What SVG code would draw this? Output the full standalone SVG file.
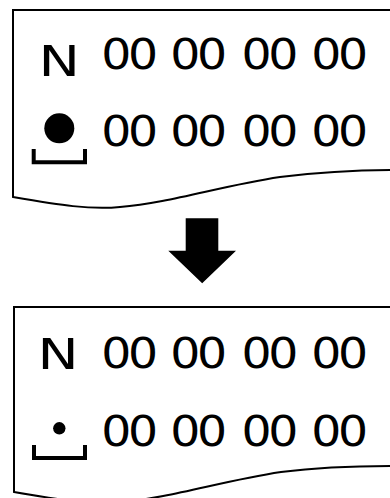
<svg xmlns="http://www.w3.org/2000/svg" width="390" height="498" viewBox="0 0 390 498">
<style>
.frame{fill:#fff;stroke:#000;stroke-width:2;stroke-linejoin:miter}
.num{font-family:"DejaVu Sans",sans-serif;font-size:43px;fill:#000}
.n{font-family:"DejaVu Sans",sans-serif;font-size:42px;fill:#000}
.br{fill:none;stroke:#000;stroke-width:4;stroke-linejoin:miter;stroke-linecap:butt}
</style>
<rect width="390" height="498" fill="#fff"/>
<g id="before">
<path class="frame" d="M395,10 H13 V197 C60,205 90,210 120,207 C170,203 220,186 280,177 C320,172 360,170 395,170"/>
<text class="n" transform="translate(38.5,76) scale(1.32,1)">N</text>
<text class="num" transform="scale(1.1,1)" x="91.98 116.34 154.71 179.07 219.53 243.89 282.89 307.25" y="68.8">00000000</text>
<circle cx="59.3" cy="128.3" r="15" fill="#000"/>
<path class="br" d="M33.7,149 V162.2 H85 V149"/>
<text class="num" transform="scale(1.1,1)" x="91.98 116.34 154.71 179.07 219.53 243.89 282.89 307.25" y="146.2">00000000</text>
</g>
<g id="connectors">
<polygon points="185.7,218.3 218.3,218.3 218.3,250.7 236,250.7 202.2,283.3 168.3,250.7 185.7,250.7" fill="#000"/>
</g>
<g id="after">
<path class="frame" d="M395,307 H14 V492 C61,500 91,505 121,502 C171,498 221,481 281,472 C321,467 361,466 395,466"/>
<text class="n" transform="translate(37.5,369.3) scale(1.31,1)">N</text>
<text class="num" transform="scale(1.1,1)" x="91.98 116.34 154.71 179.07 219.53 243.89 282.89 307.25" y="368.4">00000000</text>
<circle cx="59.3" cy="428.3" r="6.2" fill="#000"/>
<path class="br" d="M34,445 V458 H85 V445"/>
<text class="num" transform="scale(1.1,1)" x="91.98 116.34 154.71 179.07 219.53 243.89 282.89 307.25" y="446.2">00000000</text>
</g>
</svg>
